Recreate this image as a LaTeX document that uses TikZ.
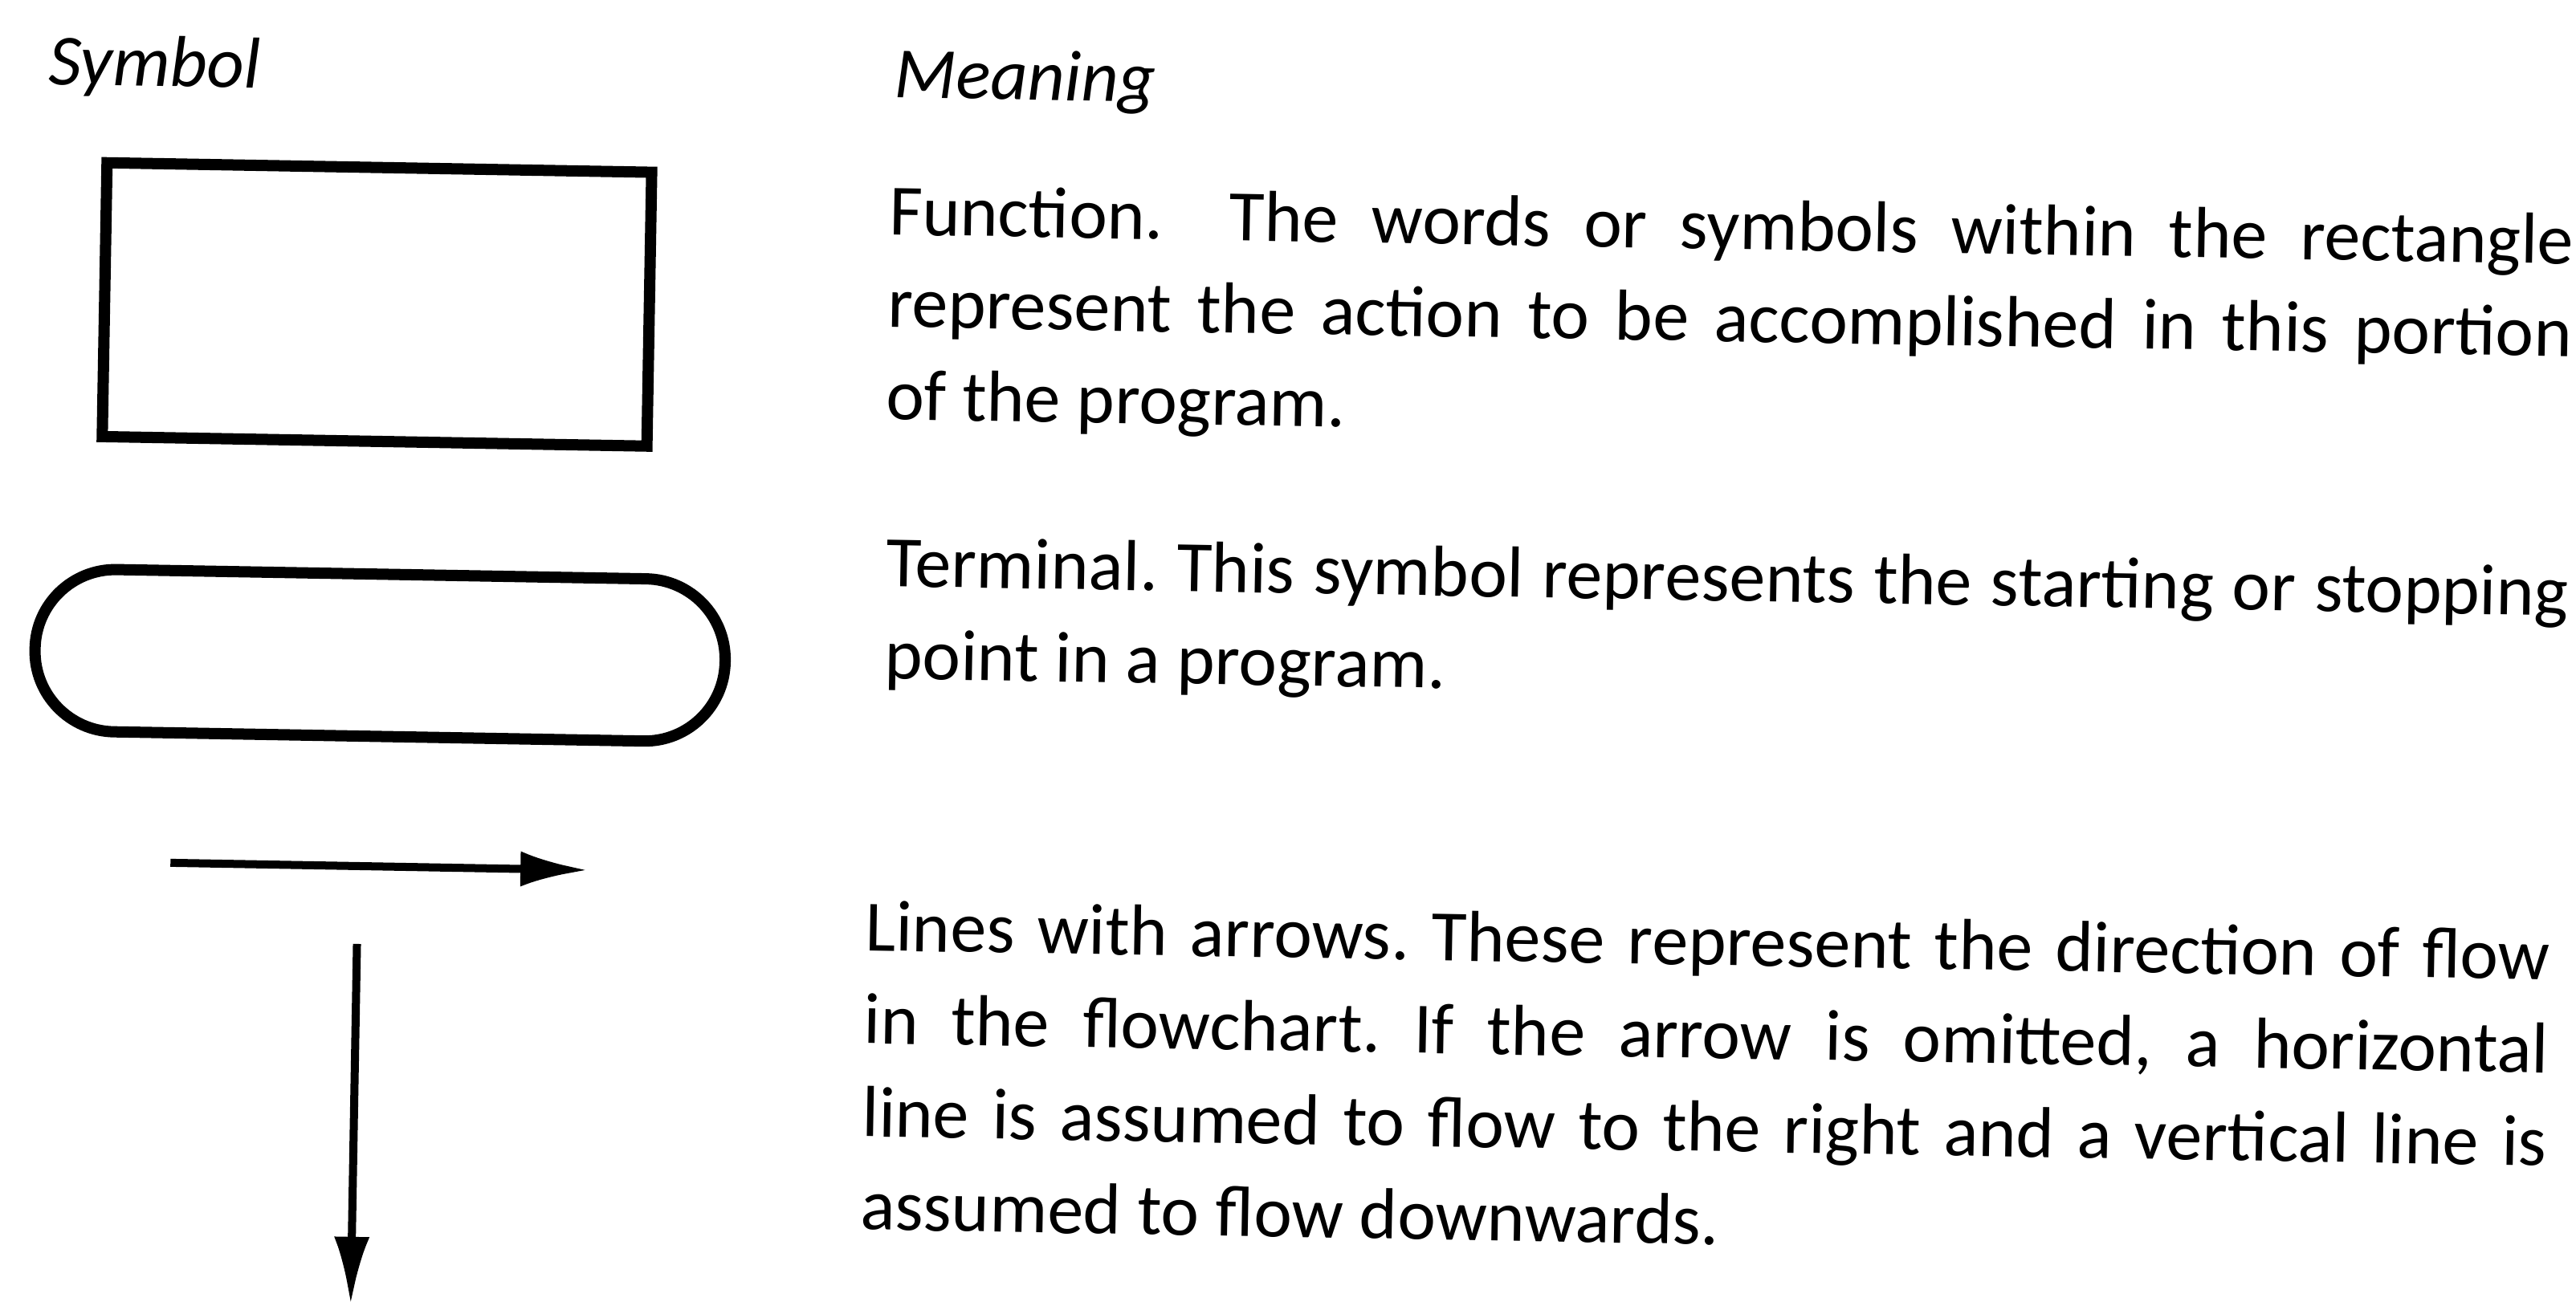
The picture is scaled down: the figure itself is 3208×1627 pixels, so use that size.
\documentclass[tikz,border=0pt]{standalone}
\usepackage{fontspec}
\setmainfont{Carlito}
\usetikzlibrary{arrows.meta}
\frenchspacing
\begin{document}
\begin{tikzpicture}[x=0.01cm, y=-0.01cm,
  sym/.style={draw=black, line width=0.14cm, inner sep=0, transform shape},
  flow/.style={line width=0.1cm, -{Latex[length=0.85cm, width=0.44cm]}},
  txt/.style={inner sep=0, outer sep=0, anchor=base west, transform shape, font=\fontsize{25.6pt}{30pt}\selectfont},
  head/.style={txt, font=\fontsize{25.6pt}{30pt}\selectfont\itshape}]
\useasboundingbox (0,0) rectangle (3208,1627);
\begin{scope}[rotate around={-1:(0,0)}]
% symbols
\node[sym, minimum width=6.78cm, minimum height=3.41cm] (func) at (476,371) {};
\node[sym, rounded corners=1.0cm, minimum width=8.59cm, minimum height=2.02cm] (term) at (487.5,808) {};
\coordinate (hs) at (231,1071);
\coordinate (he) at (752,1071);
\draw[flow] (hs) -- (he);
\coordinate (vs) at (465,1168);
\coordinate (ve) at (465,1618);
\draw[flow] (vs) -- (ve);
% headings
\node[head] (hsym) at (62,104) {Symbol};
\node[head] (hmean) at (1115,102) {Meaning};
% paragraph 1
\node[txt] (p1a) at (1112,273) {\makebox[20.97cm][s]{Function.\ \ The words or symbols within the rectangle}};
\node[txt] (p1b) at (1112,388) {\makebox[20.97cm][s]{represent the action to be accomplished in this portion}};
\node[txt] (p1c) at (1112,503) {of the program.};
% paragraph 2
\node[txt] (p2a) at (1116,711) {\makebox[20.94cm][s]{Terminal. This symbol represents the starting or stopping}};
\node[txt] (p2b) at (1116,826) {point in a program.};
% paragraph 3
\node[txt] (p3a) at (1098,1165) {\makebox[20.97cm][s]{Lines with arrows. These represent the direction of flow}};
\node[txt] (p3b) at (1098,1281) {\makebox[20.97cm][s]{in the flowchart. If the arrow is omitted, a horizontal}};
\node[txt] (p3c) at (1098,1397) {\makebox[20.97cm][s]{line is assumed to flow to the right and a vertical line is}};
\node[txt] (p3d) at (1098,1513) {assumed to flow downwards.};
\end{scope}
\end{tikzpicture}
\end{document}
